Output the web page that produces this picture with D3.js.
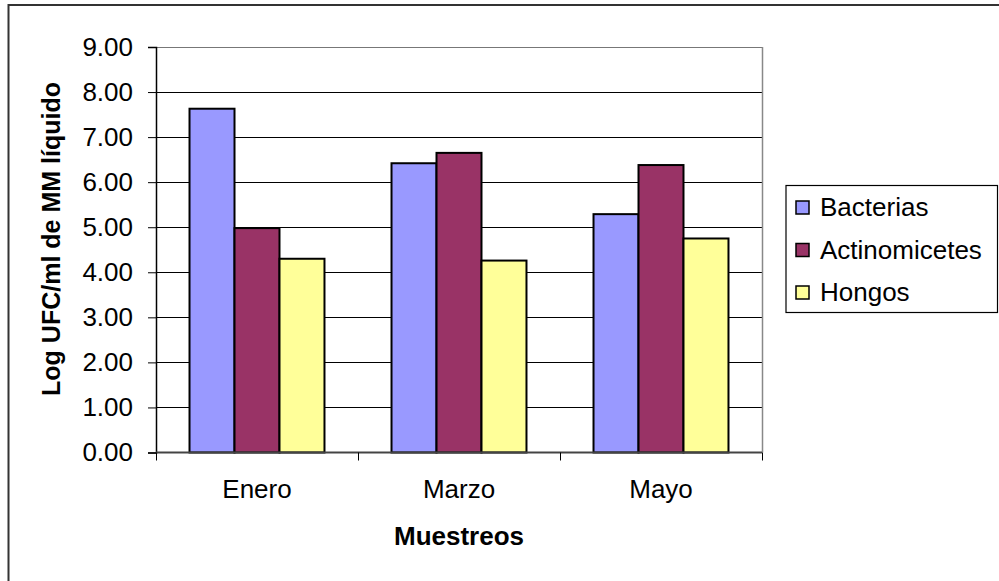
<!DOCTYPE html>
<html>
<head>
<meta charset="utf-8">
<script src="https://cdn.jsdelivr.net/npm/d3@7"></script>
<style>
  body { margin: 0; background: #fff; }
  text { font-family: "Liberation Sans", Arial, sans-serif; fill: #000; }
</style>
</head>
<body>
<svg id="grafico" width="999" height="581"></svg>
<script>
// data
var meses = ["Enero", "Marzo", "Mayo"];
var series = ["Bacterias", "Actinomicetes", "Hongos"];
var bacterias = [7.63, 6.42, 5.29];
var actinomicetes = [4.98, 6.65, 6.38];
var hongos = [4.30, 4.26, 4.75];
var yTicks = [0, 1, 2, 3, 4, 5, 6, 7, 8, 9];
var colores = ["#9999FF", "#993366", "#FFFF99"];

var valores = [bacterias, actinomicetes, hongos];

// dimensions of the plot area
var svg = d3.select("svg#grafico");
var plotLeft = 156, plotRight = 762, plotTop = 47, plotBottom = 452.5;

// outer frame (right and bottom edges fall off the picture)
svg.append("rect")
    .attr("x", 8.5).attr("y", 5)
    .attr("width", 1100).attr("height", 700)
    .attr("fill", "none")
    .attr("stroke", "#333")
    .attr("stroke-width", 2);

// scales
var x = d3.scaleBand().domain(meses).range([plotLeft, plotRight]);
var xs = d3.scaleBand().domain(series)
    .range([0, x.bandwidth()])
    .paddingInner(0)
    .paddingOuter(0.745);
var y = d3.scaleLinear().domain([0, 9]).range([plotBottom, plotTop]);
var color = d3.scaleOrdinal().domain(series).range(colores);

// gridlines
svg.append("g")
    .selectAll("line")
    .data(yTicks.slice(1))
    .enter().append("line")
    .attr("x1", plotLeft).attr("x2", plotRight)
    .attr("y1", function(d) { return Math.round(y(d)) + 0.5; })
    .attr("y2", function(d) { return Math.round(y(d)) + 0.5; })
    .attr("stroke", function(d) { return d == 9 ? "#777" : "#000"; })
    .attr("stroke-width", 1);

// plot area right border
svg.append("line")
    .attr("x1", plotRight + 0.5).attr("x2", plotRight + 0.5)
    .attr("y1", plotTop).attr("y2", plotBottom)
    .attr("stroke", "#888").attr("stroke-width", 1.5);

// bars
var grupos = svg.append("g")
    .selectAll("g")
    .data(meses)
    .enter().append("g")
    .attr("transform", function(d) { return "translate(" + x(d) + ",0)"; });

grupos.selectAll("rect")
    .data(function(d, i) {
        return series.map(function(s, j) { return { serie: s, valor: valores[j][i] }; });
    })
    .enter().append("rect")
    .attr("x", function(d) { return xs(d.serie); })
    .attr("y", function(d) { return y(d.valor); })
    .attr("width", xs.bandwidth())
    .attr("height", function(d) { return plotBottom - y(d.valor); })
    .attr("fill", function(d) { return color(d.serie); })
    .attr("stroke", "#000")
    .attr("stroke-width", 2);

// y axis
var yAxis = svg.append("g")
    .attr("transform", "translate(" + plotLeft + ",0)")
    .call(d3.axisLeft(y).tickValues(yTicks).tickSize(8).tickPadding(15)
        .tickFormat(d3.format(".2f")));
yAxis.selectAll("text").style("font-size", "26px");
yAxis.selectAll("line").attr("stroke", "#000");
yAxis.select(".domain").attr("stroke", "#000").attr("stroke-width", 1.5);

// x axis
var xAxis = svg.append("g")
    .attr("transform", "translate(0," + plotBottom + ")")
    .call(d3.axisBottom(x).tickSize(0).tickPadding(0));
xAxis.select(".domain").remove();
xAxis.selectAll("text")
    .attr("y", 45)
    .attr("dy", 0)
    .style("font-size", "26px");
svg.append("line")
    .attr("x1", plotLeft).attr("x2", plotRight)
    .attr("y1", plotBottom).attr("y2", plotBottom)
    .attr("stroke", "#444").attr("stroke-width", 2);
// category boundary ticks
svg.append("g")
    .selectAll("line")
    .data(meses.concat(["fin"]))
    .enter().append("line")
    .attr("x1", function(d, i) { return Math.round(plotLeft + i * x.step()) + 0.5; })
    .attr("x2", function(d, i) { return Math.round(plotLeft + i * x.step()) + 0.5; })
    .attr("y1", plotBottom).attr("y2", plotBottom + 8)
    .attr("stroke", "#000");

// axis titles
svg.append("text")
    .attr("x", (plotLeft + plotRight) / 2)
    .attr("y", 545)
    .attr("text-anchor", "middle")
    .style("font-size", "26px")
    .style("font-weight", "bold")
    .text("Muestreos");

svg.append("text")
    .attr("transform", "translate(60,239) rotate(-90)")
    .attr("text-anchor", "middle")
    .style("font-size", "25px")
    .style("font-weight", "bold")
    .text("Log UFC/ml de MM líquido");

// legend
var leg = svg.append("g");
leg.append("rect")
    .attr("x", 786).attr("y", 185.5)
    .attr("width", 211.5).attr("height", 127)
    .attr("fill", "#fff")
    .attr("stroke", "#000")
    .attr("stroke-width", 1.2);

var items = leg.selectAll(".item")
    .data(series)
    .enter().append("g")
    .attr("class", "item")
    .attr("transform", function(d, i) { return "translate(0," + (207 + i * 42.5) + ")"; });
items.append("rect")
    .attr("x", 796).attr("y", -6)
    .attr("width", 13).attr("height", 13)
    .attr("fill", function(d) { return color(d); })
    .attr("stroke", "#000")
    .attr("stroke-width", 1.5);
items.append("text")
    .attr("x", 820)
    .attr("y", 0)
    .attr("dy", "0.35em")
    .style("font-size", "26px")
    .text(function(d) { return d; });
</script>
</body>
</html>
